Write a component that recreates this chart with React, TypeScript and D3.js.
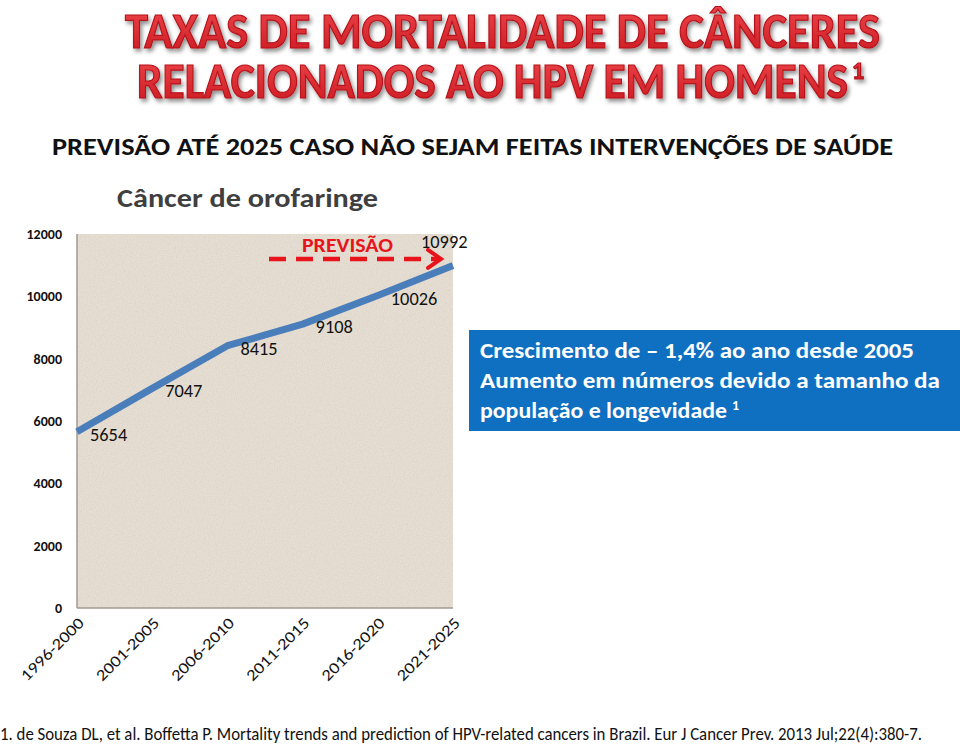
import React from 'react';
import * as d3 from 'd3';

const categories = ['1996-2000', '2001-2005', '2006-2010', '2011-2015', '2016-2020', '2021-2025'];
const deaths = [5654, 7047, 8415, 9108, 10026, 10992];
const yTicks = [0, 2000, 4000, 6000, 8000, 10000, 12000];

const titleLines = ['TAXAS DE MORTALIDADE DE CÂNCERES', 'RELACIONADOS AO HPV EM HOMENS'];
const subtitle = 'PREVISÃO ATÉ 2025 CASO NÃO SEJAM FEITAS  INTERVENÇÕES DE SAÚDE';
const chartTitle = 'Câncer de orofaringe';
const noteLines = ['Crescimento de – 1,4% ao ano desde 2005', 'Aumento em números devido a tamanho da', 'população e longevidade'];
const footer = '1. de Souza DL, et al. Boffetta P. Mortality trends and prediction of HPV-related cancers in Brazil. Eur J Cancer Prev. 2013 Jul;22(4):380-7.';

const FONT = 'Carlito, Lato, "Open Sans", sans-serif';

export default function App() {
  const left = 77, right = 453, top = 234, bottom = 608;

  const x = d3.scalePoint<string>().domain(categories).range([left, right]).padding(0);
  const y = d3.scaleLinear().domain([0, 12000]).range([bottom, top]);

  const line = d3.line<number>()
    .x((_, i) => x(categories[i]) as number)
    .y(d => y(d));

  const last = deaths.length - 1;
  const arrowY = y(11200);
  const arrowX0 = ((x(categories[2]) as number) + (x(categories[3]) as number)) / 2 + 4;
  const arrowX1 = right - 12;

  return (
    <svg width={960} height={748} style={{ position: 'absolute', left: 0, top: 0, background: '#fff' }}>
      <defs>
        <filter id="shadow" x="-5%" y="-20%" width="110%" height="150%">
          <feDropShadow dx="2" dy="3" stdDeviation="2" floodColor="#000" floodOpacity="0.45" />
        </filter>
        <linearGradient id="redGrad" x1="0" y1="0" x2="0" y2="1">
          <stop offset="0" stopColor="#f04a4f" />
          <stop offset="1" stopColor="#c8161d" />
        </linearGradient>
        <filter id="grain" x="0" y="0" width="100%" height="100%">
          <feTurbulence type="fractalNoise" baseFrequency="0.85" numOctaves="2" seed="4" />
          <feColorMatrix type="matrix" values="0 0 0 0 0.55  0 0 0 0 0.5  0 0 0 0 0.44  0 0 0 -2.2 1.35" />
        </filter>
      </defs>

      {/* title */}
      <g filter="url(#shadow)" fontFamily={FONT} fontWeight="bold" fill="url(#redGrad)"
        stroke="#b5121a" strokeWidth={1.2}>
        <text x={125} y={48} fontSize={50} textLength={755} lengthAdjust="spacingAndGlyphs">{titleLines[0]}</text>
        <text x={137} y={98} fontSize={50} textLength={711} lengthAdjust="spacingAndGlyphs">{titleLines[1]}</text>
        <text x={852} y={79} fontSize={24}>1</text>
      </g>

      <text x={52} y={155} fontFamily={FONT} fontWeight="bold" fontSize={24} fill="#111"
        textLength={841} lengthAdjust="spacingAndGlyphs">{subtitle}</text>

      <text x={117} y={207} fontFamily={FONT} fontWeight="bold" fontSize={27} fill="#3f3f3f"
        textLength={261} lengthAdjust="spacingAndGlyphs">{chartTitle}</text>

      {/* plot area */}
      <rect x={left} y={top} width={right - left} height={bottom - top} fill="#e6ded2" />
      <rect x={left} y={top} width={right - left} height={bottom - top} filter="url(#grain)" opacity={0.28} />
      <line x1={left} x2={left} y1={top} y2={bottom} stroke="#a09a92" strokeWidth={1.5} />
      <line x1={left} x2={right} y1={bottom} y2={bottom} stroke="#a09a92" strokeWidth={1.5} />

      {yTicks.map(t => (
        <text key={t} x={62} y={y(t)} dy="0.35em" textAnchor="end" fontFamily={FONT}
          fontWeight="bold" fontSize={14} fill="#111">{t}</text>
      ))}

      {categories.map(c => (
        <text key={c} transform={`translate(${(x(c) as number) + 4},${bottom + 12}) rotate(-45)`}
          textAnchor="end" dy="0.35em" fontFamily={FONT} fontSize={16} fill="#111"
          textLength={82} lengthAdjust="spacingAndGlyphs">{c}</text>
      ))}

      <path d={line(deaths) ?? ''} fill="none" stroke="#4a7ebb" strokeWidth={7} strokeLinejoin="round" />

      {deaths.map((v, i) => {
        const px = x(categories[i]) as number;
        const py = y(v);
        const isLast = i === last;
        const w = String(v).length * 9.3;
        return (
          <text key={i} x={isLast ? px - 32 : px + 13} y={isLast ? py - 17 : py + 9}
            fontFamily={FONT} fontSize={18} fill="#111" textLength={w}
            lengthAdjust="spacingAndGlyphs">{v}</text>
        );
      })}

      {/* forecast annotation */}
      <text x={302} y={252} fontFamily={FONT} fontWeight="bold" fontSize={21}
        fill="#e8141c" textLength={91} lengthAdjust="spacingAndGlyphs">PREVISÃO</text>
      <line x1={arrowX0} x2={arrowX1 - 3} y1={arrowY} y2={arrowY} stroke="#e8141c" strokeWidth={4.5}
        strokeDasharray="17 10" />
      <polyline points={`${arrowX1 - 13},${arrowY - 9} ${arrowX1},${arrowY} ${arrowX1 - 13},${arrowY + 9}`}
        fill="none" stroke="#e8141c" strokeWidth={4} strokeLinecap="round" />

      {/* note box */}
      <rect x={469} y={330} width={491} height={101} fill="#0f6fc0" />
      <g fontFamily={FONT} fontWeight="bold" fontSize={22} fill="#fff">
        <text x={480} y={358} textLength={434} lengthAdjust="spacingAndGlyphs">{noteLines[0]}</text>
        <text x={480} y={388} textLength={460} lengthAdjust="spacingAndGlyphs">{noteLines[1]}</text>
        <text x={480} y={418} textLength={247} lengthAdjust="spacingAndGlyphs">{noteLines[2]}</text>
        <text x={732} y={410} fontSize={14}>1</text>
      </g>

      <text x={0} y={740} fontFamily={FONT} fontSize={18} fill="#111" textLength={922}
        lengthAdjust="spacingAndGlyphs">{footer}</text>
    </svg>
  );
}
